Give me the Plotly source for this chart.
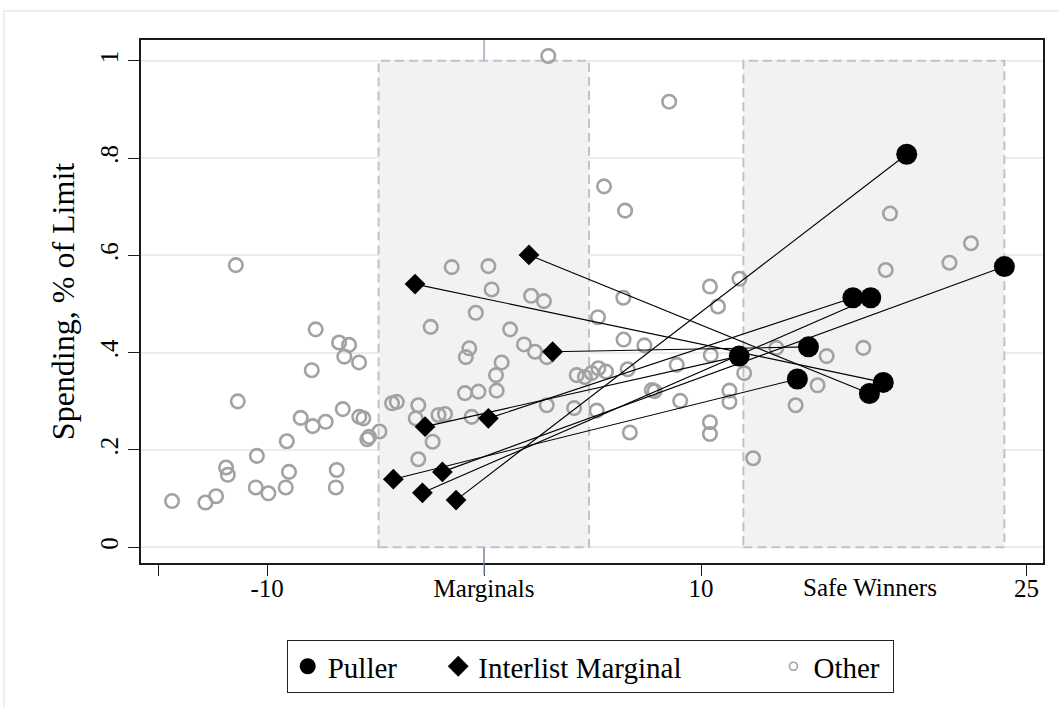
import plotly.graph_objects as go

# ---------------- data ----------------
# Interlist marginal candidates (diamonds)
marginal_x = [2.07, -3.18, 3.16, -2.72, 0.20, -4.18, -1.92, -2.84, -1.29]
marginal_y = [0.601, 0.541, 0.402, 0.248, 0.265, 0.140, 0.155, 0.112, 0.097]
# Pullers (filled circles), index-aligned with the marginal they are linked to
puller_x = [17.76, 18.40, 14.95, 11.76, 17.00, 14.44, 23.98, 17.82, 19.48]
puller_y = [0.316, 0.339, 0.412, 0.393, 0.513, 0.346, 0.577, 0.513, 0.808]

# Other candidates (hollow circles)
other_x = [
    -11.44, -7.76, -6.68, -6.22, -6.44, -5.76, -7.94, -11.35, -6.51, -8.45,
    -7.30, -7.90, -5.75, -5.56, -5.38, -5.30, -4.82, -9.09, -10.47, -11.89,
    -11.81, -8.99, -6.79, -6.83, -9.14, -10.52, -9.94, -12.35, -12.84, -14.38,
    -1.49, 0.20, 0.35, 2.17, 2.76, -0.38, -2.46, 1.20, 1.84, 2.35,
    2.89, -0.68, -0.84, 0.81, 0.55, 0.58, -0.88, -0.26, -4.24, -4.02,
    -3.03, -3.15, -2.10, -1.80, -0.57, 2.89, 4.15, -2.37, -3.03, 4.27,
    4.65, 4.96, 2.96,
    5.27, 5.62, 5.25, 5.19, 5.53, 6.50, 8.53, 6.42, 6.43, 7.39,
    6.62, 8.88, 7.73, 7.86, 9.04, 6.72, 10.41, 10.78, 10.45, 11.31,
    11.31, 10.41, 10.41, 11.77, 11.99, 12.40,
    13.47, 14.36, 15.37, 15.79, 17.48, 18.71, 18.51, 21.45, 22.44,
]
other_y = [
    0.580, 0.448, 0.421, 0.416, 0.392, 0.380, 0.364, 0.300, 0.284, 0.266,
    0.258, 0.249, 0.268, 0.265, 0.222, 0.227, 0.238, 0.218, 0.188, 0.164,
    0.149, 0.155, 0.159, 0.123, 0.123, 0.123, 0.111, 0.105, 0.092, 0.095,
    0.576, 0.578, 0.530, 0.517, 0.506, 0.482, 0.453, 0.448, 0.417, 0.402,
    0.391, 0.409, 0.391, 0.380, 0.354, 0.322, 0.317, 0.320, 0.296, 0.299,
    0.292, 0.265, 0.272, 0.274, 0.268, 0.292, 0.286, 0.217, 0.181, 0.354,
    0.350, 0.358, 1.010,
    0.368, 0.361, 0.473, 0.281, 0.742, 0.692, 0.916, 0.513, 0.427, 0.415,
    0.366, 0.375, 0.323, 0.321, 0.301, 0.236, 0.536, 0.495, 0.395, 0.322,
    0.299, 0.257, 0.233, 0.552, 0.358, 0.183,
    0.410, 0.292, 0.333, 0.393, 0.410, 0.686, 0.570, 0.585, 0.625,
]

# Shaded zones (x extents) and axis ticks
marginal_zone = [-4.86, 4.84]
safe_zone = [11.95, 23.98]
x_tickvals = [-15, -10, 0, 10, 25]
x_ticktext = ["", "-10", "Marginals", "10", "25"]
safe_label = "Safe Winners"
safe_label_x = 17.8
y_tickvals = [0, 0.2, 0.4, 0.6, 0.8, 1.0]
y_ticktext = ["0", ".2", ".4", ".6", ".8", "1"]

X_RANGE = [-15.81, 25.76]
Y_RANGE = [-0.0323, 1.0428]

FONT = "Liberation Serif"
GREY = "#a2a2a2"
NB = "\u00a0"

# ---------------- figure ----------------
fig = go.Figure()

fig.add_trace(go.Scatter(
    x=other_x, y=other_y, mode="markers", name="Other", showlegend=False,
    marker=dict(symbol="circle-open", size=13.5, color=GREY, line=dict(width=2.6, color=GREY)),
    hoverinfo="skip",
))

link_x, link_y = [], []
for mx, my, px, py in zip(marginal_x, marginal_y, puller_x, puller_y):
    link_x += [mx, px, None]
    link_y += [my, py, None]
fig.add_trace(go.Scatter(
    x=link_x, y=link_y, mode="lines", showlegend=False,
    line=dict(color="black", width=1.1), hoverinfo="skip",
))

fig.add_trace(go.Scatter(
    x=puller_x, y=puller_y, mode="markers", name="Puller" + NB * 5, legendrank=1,
    marker=dict(symbol="circle", size=21, color="black"),
))
fig.add_trace(go.Scatter(
    x=marginal_x, y=marginal_y, mode="markers", name="Interlist Marginal" + NB * 12, legendrank=2,
    marker=dict(symbol="diamond", size=16, color="black"),
))
# legend-only entry for Other (smaller symbol as in reference)
fig.add_trace(go.Scatter(
    x=[None], y=[None], mode="markers", name="Other" + NB * 1, legendrank=3,
    marker=dict(symbol="circle-open", size=8, color=GREY, line=dict(width=1.6, color=GREY)),
))

y_span = Y_RANGE[1] - Y_RANGE[0]
p0 = (0 - Y_RANGE[0]) / y_span

shapes = []
# vertical reference line at x=0 (mostly hidden by shaded zone)
shapes.append(dict(type="line", xref="x", yref="paper", x0=0, x1=0, y0=0, y1=1,
                   line=dict(color="#7f95b0", width=1.2), layer="between"))
for z in (marginal_zone, safe_zone):
    shapes.append(dict(type="rect", xref="x", yref="y", x0=z[0], x1=z[1], y0=0, y1=1,
                       fillcolor="#f2f2f2",
                       line=dict(color="#c2c2c2", width=2, dash="9px,5px"),
                       layer="between"))
# continuation of reference line through the bottom tick
shapes.append(dict(type="line", xref="x", yref="paper", x0=0, x1=0, y0=-0.023, y1=p0,
                   line=dict(color="#7f95b0", width=1.2), layer="above"))
# outer graph-region frame
shapes.append(dict(type="rect", xref="paper", yref="paper",
                   x0=-0.1519, x1=1.2, y0=-0.6, y1=1.0554,
                   line=dict(color="#e3ecee", width=1.5), fillcolor="rgba(0,0,0,0)",
                   layer="below"))

fig.update_layout(
    width=1059, height=707,
    margin=dict(l=141, r=16, t=40, b=144),
    paper_bgcolor="white", plot_bgcolor="white",
    font=dict(family=FONT, color="black", size=25),
    shapes=shapes,
    showlegend=True,
    legend=dict(
        orientation="h", x=0.498, xanchor="center", y=-0.147, yanchor="top",
        bordercolor="#222222", borderwidth=1, bgcolor="white",
        font=dict(family=FONT, size=29, color="black"),
        itemclick=False, itemdoubleclick=False,
    ),
    annotations=[dict(
        x=safe_label_x, xref="x", y=0, yref="paper", yshift=-9,
        text=safe_label, showarrow=False, yanchor="top",
        font=dict(family=FONT, size=25, color="black"),
    )],
)

fig.update_xaxes(
    range=X_RANGE, tickvals=x_tickvals, ticktext=x_ticktext,
    showgrid=False, zeroline=False,
    showline=True, mirror=True, linecolor="#1a1a1a", linewidth=1.5,
    ticks="outside", ticklen=11, tickwidth=1.2, tickcolor="#1a1a1a",
    tickfont=dict(family=FONT, size=25), ticklabelstandoff=-9,
)
fig.update_yaxes(
    range=Y_RANGE, tickvals=y_tickvals, ticktext=y_ticktext, tickangle=-90,
    showgrid=True, gridcolor="#e6eef1", gridwidth=1.5, zeroline=False,
    showline=True, mirror=True, linecolor="#1a1a1a", linewidth=1.5,
    ticks="outside", ticklen=11, tickwidth=1.2, tickcolor="#1a1a1a",
    tickfont=dict(family=FONT, size=25),
    title=dict(text="Spending, % of Limit", font=dict(family=FONT, size=32), standoff=12),
)

fig.write_html("out.html", config={"displayModeBar": False},
               post_script="document.body.style.margin='0';")
